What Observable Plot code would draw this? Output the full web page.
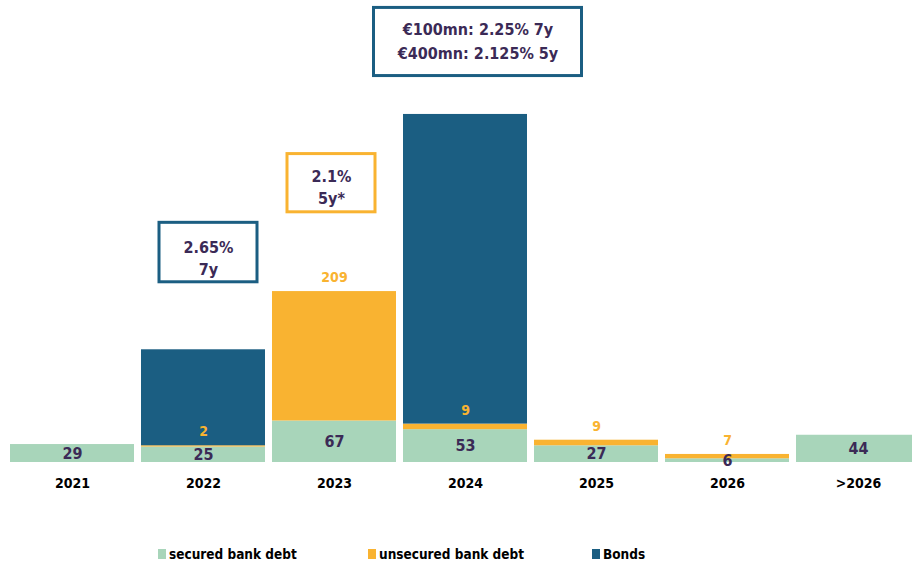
<!DOCTYPE html>
<html><head><meta charset="utf-8">
<script src="https://cdn.jsdelivr.net/npm/d3@7"></script>
<script src="https://cdn.jsdelivr.net/npm/@observablehq/plot@0.6"></script>
<style>
body{margin:0;overflow:hidden;background:#fff;font-family:"DejaVu Sans Condensed","DejaVu Sans",sans-serif;font-stretch:condensed;}
#chart{position:absolute;left:0;top:0;width:930px;}
#chart svg{max-width:none;width:930px;height:500px;}
#legend{position:absolute;top:545px;left:0;width:912px;height:18px;font-weight:bold;font-size:13.5px;color:#000;}
.item{position:absolute;top:0;display:flex;align-items:center;height:18px;white-space:nowrap;}
.sw{width:8px;height:10px;margin-right:3px;}
</style></head><body><div id="chart"></div><div id="legend"></div>
<script>
const years = ["2021","2022","2023","2024","2025","2026",">2026"];
const secured = [29,25,67,53,27,6,44];
const unsecured = [0,2,209,9,9,7,0];
const bonds = [0,155,0,500,0,0,0];
const seriesNames = ["secured bank debt","unsecured bank debt","Bonds"];
const colors = ["#a8d5ba","#f9b331","#1b5e82"];
const annYears = ["2022","2023","2024"];
const annTexts = ["2.65%\n7y","2.1%\n5y*","€100mn: 2.25% 7y\n€400mn: 2.125% 5y"];

// layout of annotation boxes (data units on y, pixel insets on x)
const annColors = ["#1b5e82","#f9b331","#1b5e82"];
const annBox = [
  {y1:291, y2:387, insetLeft:18, insetRight:8, ty:332, dx:5, lh:1.4},
  {y1:404, y2:498, insetLeft:15, insetRight:21, ty:447, dx:-3, lh:1.4},
  {y1:624, y2:734, insetLeft:-29.5, insetRight:-54.5, ty:683, dx:12.5, lh:1.5}
];

const seriesVals = [secured, unsecured, bonds];
const data = [];
years.forEach((y,i)=>seriesNames.forEach((s,k)=>{
  if (seriesVals[k][i] > 0) data.push({year:y, series:s, value:seriesVals[k][i]});
}));
const greenLabels = years.map((y,i)=>({year:y, y:secured[i]/2, text:String(secured[i])}));
const orangeLabels = years.map((y,i)=>({year:y, y:secured[i]+unsecured[i], text:String(unsecured[i]), v:unsecured[i]})).filter(d=>d.v>0);

const textColor = "#3b2a56";
const marks = [
  Plot.barY(data, {x:"year", y:"value", fill:"series", order:seriesNames}),
  Plot.text(greenLabels, {x:"year", y:"y", text:"text", fill:textColor, fontSize:16, fontWeight:"bold"}),
  Plot.text(orangeLabels, {x:"year", y:"y", text:"text", fill:"#f9b331", fontSize:14, fontWeight:"bold", dy:-14}),
  Plot.axisX({tickSize:0, tickPadding:16, fontSize:14, fontWeight:"bold", label:null, fill:"#000"})
];
annYears.forEach((yr,i)=>{
  const b = annBox[i];
  marks.push(Plot.rect([{year:yr, y1:b.y1, y2:b.y2}], {x:"year", y1:"y1", y2:"y2", fill:"white", stroke:annColors[i], strokeWidth:3, insetLeft:b.insetLeft, insetRight:b.insetRight}));
  marks.push(Plot.text([{year:yr, y:b.ty, t:annTexts[i]}], {x:"year", y:"y", text:"t", dx:b.dx, fill:textColor, fontSize:16, fontWeight:"bold", lineHeight:b.lh}));
});

const chart = Plot.plot({
  width:930, height:500,
  marginLeft:2, marginRight:2, marginTop:0, marginBottom:38,
  x:{domain:years, padding:0.055, axis:null},
  y:{domain:[0,746], axis:null},
  color:{domain:seriesNames, range:colors},
  style:{fontFamily:'"DejaVu Sans Condensed","DejaVu Sans",sans-serif', background:"white"},
  marks
});
document.getElementById("chart").appendChild(chart);

const legendPos = [158, 368, 592];
const lg = document.getElementById("legend");
seriesNames.forEach((s,i)=>{
  const it = document.createElement("div");
  it.className="item"; it.style.left = legendPos[i]+"px";
  it.innerHTML = `<span class="sw" style="background:${colors[i]}"></span><span>${s}</span>`;
  lg.appendChild(it);
});
</script></body></html>
